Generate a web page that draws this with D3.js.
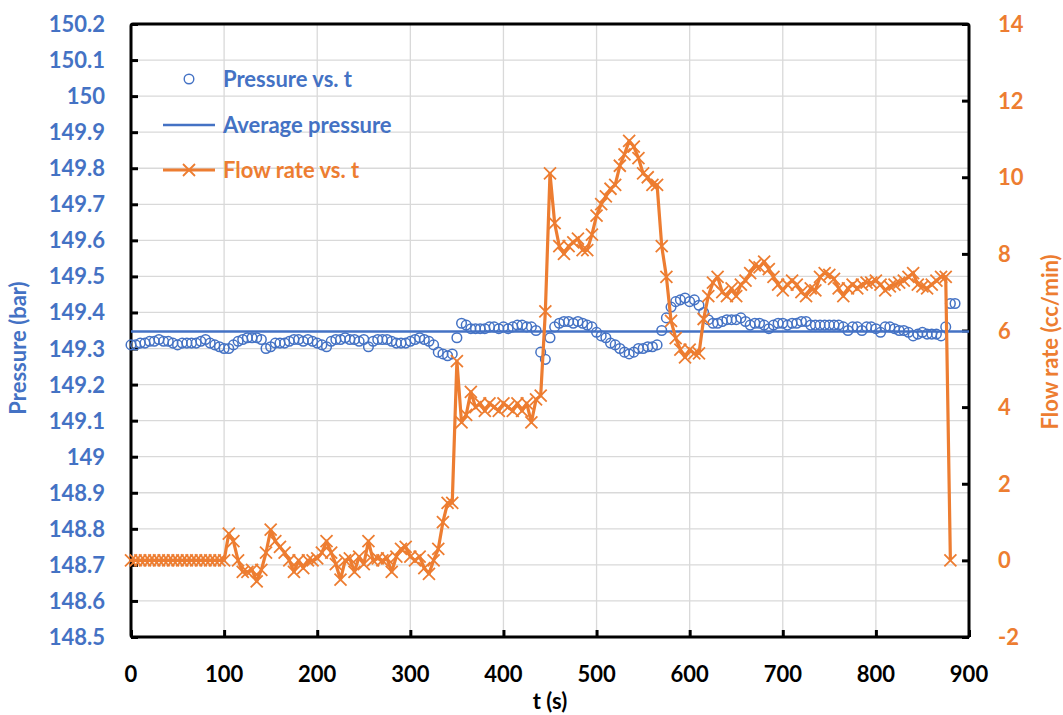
<!DOCTYPE html>
<html>
<head>
<meta charset="utf-8">
<script src="https://cdn.jsdelivr.net/npm/d3@7"></script>
<style>
  body { margin: 0; background: #fff; }
  text { font-family: Lato, "Open Sans", sans-serif; font-weight: bold; }
</style>
</head>
<body>
<div class="chart"></div>
<script>
// time (s)
var time = [0,5,10,15,20,25,30,35,40,45,50,55,60,65,70,75,80,85,90,95,
  100,105,110,115,120,125,130,135,140,145,150,155,160,165,170,175,180,185,190,195,
  200,205,210,215,220,225,230,235,240,245,250,255,260,265,270,275,280,285,290,295,
  300,305,310,315,320,325,330,335,340,345,350,355,360,365,370,375,380,385,390,395,
  400,405,410,415,420,425,430,435,440,445,450,455,460,465,470,475,480,485,490,495,
  500,505,510,515,520,525,530,535,540,545,550,555,560,565,570,575,580,585,590,595,
  600,605,610,615,620,625,630,635,640,645,650,655,660,665,670,675,680,685,690,695,
  700,705,710,715,720,725,730,735,740,745,750,755,760,765,770,775,780,785,790,795,
  800,805,810,815,820,825,830,835,840,845,850,855,860,865,870,875,880,885];

// pressure (bar)
var pressure = [149.31,149.31,149.315,149.315,149.32,149.32,149.325,149.32,149.32,149.315,
  149.31,149.315,149.315,149.315,149.315,149.32,149.325,149.315,149.31,149.305,
  149.30,149.30,149.31,149.32,149.325,149.33,149.33,149.33,149.325,149.30,
  149.305,149.315,149.315,149.315,149.32,149.325,149.325,149.32,149.325,149.32,
  149.315,149.31,149.305,149.32,149.325,149.325,149.33,149.325,149.325,149.32,
  149.325,149.305,149.32,149.325,149.325,149.325,149.32,149.315,149.315,149.315,
  149.32,149.325,149.33,149.325,149.32,149.31,149.29,149.285,149.28,149.285,
  149.33,149.37,149.365,149.355,149.355,149.355,149.355,149.36,149.36,149.355,
  149.36,149.355,149.36,149.365,149.365,149.36,149.36,149.35,149.29,149.27,
  149.33,149.36,149.37,149.375,149.375,149.37,149.375,149.37,149.365,149.36,
  149.345,149.335,149.33,149.315,149.31,149.30,149.29,149.285,149.29,149.30,
  149.30,149.305,149.305,149.31,149.35,149.385,149.415,149.43,149.435,149.44,
  149.43,149.435,149.42,149.40,149.38,149.37,149.37,149.375,149.38,149.38,
  149.38,149.385,149.375,149.365,149.37,149.37,149.365,149.355,149.365,149.37,
  149.37,149.365,149.37,149.37,149.375,149.375,149.365,149.365,149.365,149.365,
  149.365,149.365,149.365,149.36,149.35,149.36,149.36,149.35,149.36,149.36,
  149.355,149.345,149.36,149.36,149.355,149.35,149.35,149.345,149.335,149.34,
  149.345,149.34,149.34,149.34,149.335,149.36,149.425,149.425];

// flow rate (cc/min), 0 .. 880 s
var flow = [0,0,0,0,0,0,0,0,0,0,0,0,0,0,0,0,0,0,0,0,
  0,0.7,0.5,0.0,-0.3,-0.3,-0.25,-0.55,-0.25,0.2,
  0.8,0.5,0.35,0.2,0.0,-0.3,0.0,-0.2,0.0,0.0,
  0.05,0.2,0.5,0.2,-0.1,-0.5,0.0,0.05,-0.3,0.1,
  -0.1,0.5,0.0,0.05,0.0,0.05,-0.3,0.1,0.3,0.35,
  0.1,0.0,0.1,-0.2,-0.35,0.0,0.3,1.0,1.5,1.5,
  5.2,3.6,3.8,4.4,4.0,4.1,3.9,4.1,4.0,3.9,
  4.1,4.0,3.9,4.1,3.9,4.1,3.6,4.2,4.3,6.5,
  10.1,8.8,8.2,8.0,8.2,8.3,8.4,8.1,8.1,8.5,
  9.0,9.3,9.5,9.7,9.8,10.3,10.6,10.95,10.8,10.5,
  10.1,10.0,9.8,9.8,8.2,7.4,6.25,5.8,5.5,5.3,
  5.5,5.4,5.4,6.3,6.9,7.25,7.4,7.0,6.9,7.1,
  6.9,7.2,7.3,7.5,7.7,7.65,7.8,7.6,7.4,7.2,
  7.05,7.2,7.3,7.2,7.0,6.9,7.1,7.05,7.4,7.5,
  7.45,7.35,7.1,6.9,7.1,7.2,7.1,7.2,7.25,7.25,
  7.3,7.2,7.05,7.15,7.2,7.25,7.3,7.4,7.5,7.2,
  7.15,7.1,7.2,7.3,7.4,7.4,0];

var avgPressure = 149.347;

var xTicks = [0,100,200,300,400,500,600,700,800,900];
var pTicks = [148.5,148.6,148.7,148.8,148.9,149,149.1,149.2,149.3,149.4,149.5,149.6,149.7,149.8,149.9,150,150.1,150.2];
var fTicks = [-2,0,2,4,6,8,10,12,14];

var legendNames = ["Pressure vs. t", "Average pressure", "Flow rate vs. t"];

var blue = "#4472C4", orange = "#ED7D31";
var W = 1063, H = 715;
var L = 131, R = 969, T = 24, B = 637;

var svg = d3.select('.chart').append('svg')
  .attr('width', W).attr('height', H);

var x = d3.scaleLinear().domain([0, 900]).range([L, R]);
var yP = d3.scaleLinear().domain([148.5, 150.2]).range([B, T]);
var yF = d3.scaleLinear().domain([-2, 14]).range([B, T]);

// grid
svg.append('g').selectAll('line').data(pTicks.slice(1, -1)).enter().append('line')
  .attr('x1', L).attr('x2', R)
  .attr('y1', function(d){ return yP(d); }).attr('y2', function(d){ return yP(d); })
  .attr('stroke', '#d9d9d9').attr('stroke-width', 1.3);
svg.append('g').selectAll('line').data(xTicks.slice(1, -1)).enter().append('line')
  .attr('y1', T).attr('y2', B)
  .attr('x1', function(d){ return x(d); }).attr('x2', function(d){ return x(d); })
  .attr('stroke', '#d9d9d9').attr('stroke-width', 1.3);

// axes (ticks inward, labels placed separately)
var axB = svg.append('g').attr('transform', 'translate(0,' + B + ')')
  .call(d3.axisTop(x).tickValues(xTicks).tickSize(7).tickFormat(''));
var axL = svg.append('g').attr('transform', 'translate(' + L + ',0)')
  .call(d3.axisRight(yP).tickValues(pTicks).tickSize(7).tickFormat(''));
var axR = svg.append('g').attr('transform', 'translate(' + R + ',0)')
  .call(d3.axisLeft(yF).tickValues(fTicks).tickSize(7).tickFormat(''));
[axB, axL, axR].forEach(function(a){
  a.select('.domain').remove();
  a.selectAll('.tick line').attr('stroke', '#000').attr('stroke-width', 3);
});

// frame
svg.append('rect')
  .attr('x', L).attr('y', T).attr('width', R - L).attr('height', B - T)
  .attr('rx', 2)
  .attr('fill', 'none').attr('stroke', '#000').attr('stroke-width', 3);

// tick labels
svg.append('g').selectAll('text').data(xTicks).enter().append('text')
  .attr('x', function(d){ return x(d); }).attr('y', 682)
  .attr('text-anchor', 'middle').attr('font-size', '22px').attr('fill', '#000')
  .text(function(d){ return d; });
svg.append('g').selectAll('text').data(pTicks).enter().append('text')
  .attr('x', 105).attr('y', function(d){ return yP(d) + 8; })
  .attr('text-anchor', 'end').attr('font-size', '22px').attr('fill', blue)
  .text(function(d){ return d3.format('.10~f')(d); });
svg.append('g').selectAll('text').data(fTicks).enter().append('text')
  .attr('x', 998).attr('y', function(d){ return yF(d) + 8; })
  .attr('text-anchor', 'start').attr('font-size', '22px').attr('fill', orange)
  .text(function(d){ return d; });

// axis titles
svg.append('text').attr('x', 550).attr('y', 709).attr('text-anchor', 'middle')
  .attr('font-size', '22px').attr('fill', '#000').text('t (s)');
svg.append('text').attr('transform', 'translate(26,348) rotate(-90)')
  .attr('text-anchor', 'middle').attr('font-size', '22px').attr('fill', blue)
  .text('Pressure (bar)');
svg.append('text').attr('transform', 'translate(1058,342) rotate(-90)')
  .attr('text-anchor', 'middle').attr('font-size', '22px').attr('fill', orange)
  .text('Flow rate (cc/min)');

// pressure scatter
svg.append('g').selectAll('circle').data(pressure).enter().append('circle')
  .attr('cx', function(d, i){ return x(time[i]); })
  .attr('cy', function(d){ return yP(d); })
  .attr('r', 4.8)
  .attr('fill', 'none').attr('stroke', blue).attr('stroke-width', 1.5);

// average pressure
svg.append('line')
  .attr('x1', x(0)).attr('x2', x(900))
  .attr('y1', yP(avgPressure)).attr('y2', yP(avgPressure))
  .attr('stroke', blue).attr('stroke-width', 2.5);

// flow rate
var flowLine = d3.line()
  .x(function(d, i){ return x(time[i]); })
  .y(function(d){ return yF(d); });
svg.append('path').datum(flow)
  .attr('d', flowLine)
  .attr('fill', 'none').attr('stroke', orange).attr('stroke-width', 3.2)
  .attr('stroke-linejoin', 'round');

function cross(g, cx, cy, s) {
  g.append('path')
    .attr('d', 'M' + (cx - s) + ',' + (cy - s) + 'L' + (cx + s) + ',' + (cy + s) +
               'M' + (cx - s) + ',' + (cy + s) + 'L' + (cx + s) + ',' + (cy - s))
    .attr('stroke', orange).attr('stroke-width', 1.8).attr('fill', 'none');
}
var marks = svg.append('g');
flow.forEach(function(d, i){ cross(marks, x(time[i]), yF(d), 6); });

// legend
var lg = svg.append('g');
lg.append('circle').attr('cx', 189).attr('cy', 79).attr('r', 4.8)
  .attr('fill', 'none').attr('stroke', blue).attr('stroke-width', 1.4);
lg.append('line').attr('x1', 163).attr('x2', 215).attr('y1', 125).attr('y2', 125)
  .attr('stroke', blue).attr('stroke-width', 2.5);
lg.append('line').attr('x1', 163).attr('x2', 215).attr('y1', 170).attr('y2', 170)
  .attr('stroke', orange).attr('stroke-width', 3);
cross(lg, 189, 170, 6);
legendNames.forEach(function(n, i){
  lg.append('text').attr('x', 223).attr('y', 79 + i * 45.5 + 8)
    .attr('font-size', '22px').attr('fill', i < 2 ? blue : orange)
    .text(n);
});
</script>
</body>
</html>
